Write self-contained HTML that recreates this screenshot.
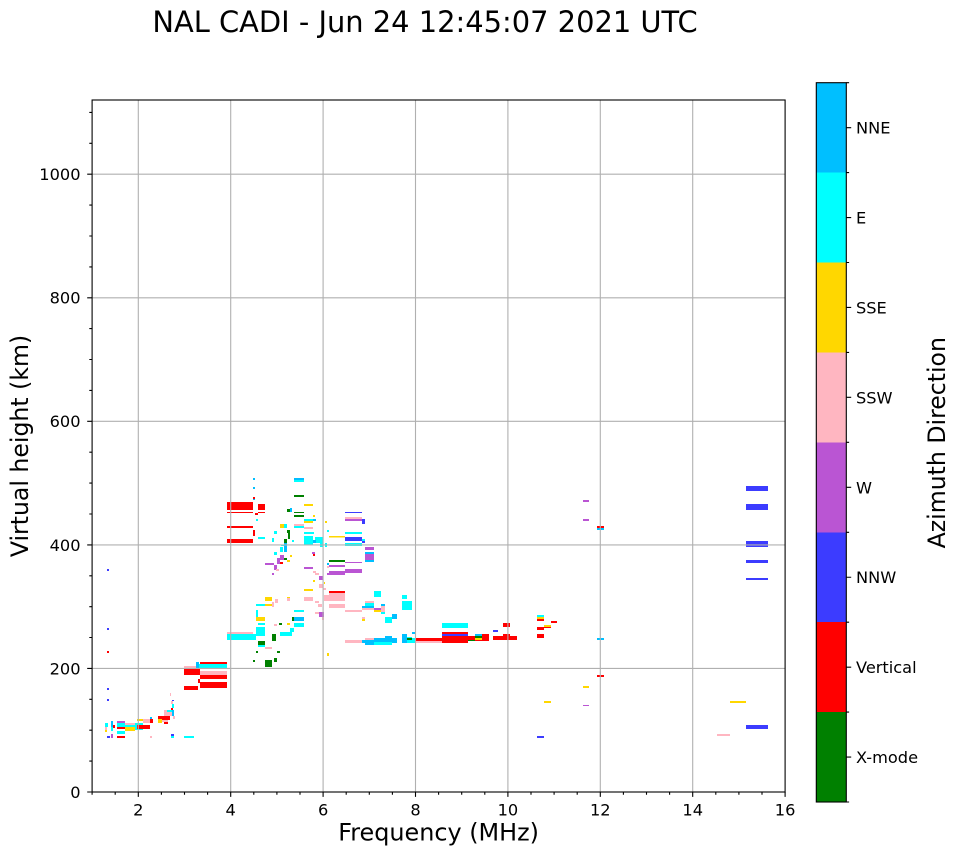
<!DOCTYPE html>
<html>
<head>
<meta charset="utf-8">
<style>
html,body{margin:0;padding:0;background:#fff;}
svg{display:block;}
text{font-family:"DejaVu Sans","Liberation Sans",sans-serif;fill:#000;}
</style>
</head>
<body>
<svg width="958" height="857" viewBox="0 0 958 857" xmlns="http://www.w3.org/2000/svg">
<rect x="0" y="0" width="958" height="857" fill="#fff"/>

<!-- Title -->
<text x="425" y="32" font-size="28.9" text-anchor="middle">NAL CADI - Jun 24 12:45:07 2021 UTC</text>

<!-- Data -->
<g shape-rendering="crispEdges">
<rect x="107" y="569" width="2" height="2" fill="#3c3cff"/>
<rect x="107" y="628" width="2" height="2" fill="#3c3cff"/>
<rect x="107" y="651" width="2" height="2" fill="#ff0000"/>
<rect x="107" y="688" width="2" height="2" fill="#3c3cff"/>
<rect x="107" y="699" width="2" height="2" fill="#3c3cff"/>

<rect x="105" y="723" width="3" height="4" fill="#00ffff"/>
<rect x="105" y="727" width="2" height="3" fill="#ffb6c1"/>
<rect x="105" y="730" width="2" height="2" fill="#ffd700"/>
<rect x="111" y="721" width="2" height="6" fill="#00bfff"/>
<rect x="111" y="727" width="2" height="4" fill="#00ffff"/>
<rect x="113" y="725" width="2" height="3" fill="#ff0000"/>
<rect x="117" y="721" width="8" height="2" fill="#ba55d3"/>
<rect x="117" y="723" width="18" height="4" fill="#00ffff"/>
<rect x="125" y="723" width="10" height="2" fill="#ffb6c1"/>
<rect x="117" y="727" width="8" height="2" fill="#ff0000"/>
<rect x="125" y="727" width="10" height="4" fill="#ffd700"/>
<rect x="117" y="731" width="8" height="3" fill="#00ffff"/>
<rect x="117" y="736" width="8" height="2" fill="#ff0000"/>
<rect x="107" y="736" width="3" height="2" fill="#3c3cff"/>
<rect x="111" y="734" width="2" height="4" fill="#ba55d3"/>
<rect x="135" y="723" width="8" height="7" fill="#00ffff"/>
<rect x="137" y="719" width="6" height="2" fill="#ffd700"/>
<rect x="143" y="719" width="7" height="4" fill="#ffb6c1"/>
<rect x="137" y="725" width="13" height="4" fill="#ff0000"/>
<rect x="150" y="719" width="3" height="4" fill="#ff0000"/>
<rect x="150" y="717" width="2" height="2" fill="#00bfff"/>
<rect x="158" y="716" width="12" height="4" fill="#ff0000"/>
<rect x="164" y="710" width="8" height="6" fill="#ffb6c1"/>
<rect x="167" y="710" width="5" height="2" fill="#00ffff"/>
<rect x="158" y="719" width="4" height="4" fill="#ffd700"/>
<rect x="162" y="720" width="6" height="2" fill="#ffb6c1"/>
<rect x="164" y="722" width="4" height="2" fill="#ff0000"/>
<rect x="150" y="736" width="2" height="2" fill="#ffb6c1"/>
<rect x="184" y="736" width="10" height="2" fill="#00ffff"/>
<rect x="171" y="734" width="3" height="2" fill="#3c3cff"/>
<rect x="171" y="736" width="3" height="2" fill="#00ffff"/>
<rect x="170" y="693" width="1" height="3" fill="#ffb6c1"/>
<rect x="171" y="701" width="2" height="3" fill="#ffb6c1"/>
<rect x="172" y="704" width="2" height="4" fill="#00ffff"/>
<rect x="171" y="708" width="2" height="2" fill="#ff0000"/>
<rect x="172" y="710" width="2" height="6" fill="#00bfff"/>
<rect x="173" y="716" width="2" height="3" fill="#ffb6c1"/>
<rect x="172" y="700" width="2" height="1" fill="#3c3cff"/>

<rect x="184" y="666" width="16" height="3" fill="#ffb6c1"/>
<rect x="184" y="669" width="16" height="6" fill="#ff0000"/>
<rect x="184" y="686" width="14" height="4" fill="#ff0000"/>
<rect x="198" y="679" width="2" height="4" fill="#ff0000"/>
<rect x="200" y="662" width="27" height="2" fill="#ff0000"/>
<rect x="196" y="664" width="31" height="5" fill="#00ffff"/>
<rect x="196" y="662" width="3" height="7" fill="#00bfff"/>
<rect x="200" y="671" width="27" height="4" fill="#ffb6c1"/>
<rect x="200" y="675" width="27" height="4" fill="#ff0000"/>
<rect x="200" y="682" width="27" height="6" fill="#ff0000"/>

<rect x="227" y="632" width="26" height="2" fill="#ffb6c1"/>
<rect x="227" y="634" width="29" height="6" fill="#00ffff"/>
<rect x="256" y="627" width="9" height="9" fill="#00ffff"/>
<rect x="258" y="641" width="7" height="4" fill="#008000"/>
<rect x="258" y="645" width="7" height="2" fill="#00ffff"/>
<rect x="256" y="651" width="2" height="2" fill="#008000"/>
<rect x="253" y="660" width="2" height="2" fill="#008000"/>
<rect x="265" y="660" width="7" height="7" fill="#008000"/>
<rect x="274" y="658" width="3" height="4" fill="#008000"/>
<rect x="277" y="651" width="3" height="2" fill="#008000"/>
<rect x="265" y="647" width="7" height="2" fill="#ffb6c1"/>
<rect x="272" y="634" width="4" height="7" fill="#008000"/>
<rect x="280" y="632" width="12" height="4" fill="#00ffff"/>
<rect x="290" y="628" width="4" height="4" fill="#00ffff"/>
<rect x="274" y="624" width="3" height="2" fill="#ffb6c1"/>
<rect x="256" y="610" width="2" height="10" fill="#00ffff"/>
<rect x="256" y="617" width="9" height="4" fill="#ffd700"/>
<rect x="258" y="623" width="7" height="2" fill="#00ffff"/>
<rect x="279" y="623" width="3" height="2" fill="#008000"/>
<rect x="287" y="623" width="3" height="2" fill="#ffd700"/>
<rect x="294" y="617" width="10" height="4" fill="#00bfff"/>
<rect x="292" y="617" width="2" height="4" fill="#008000"/>
<rect x="294" y="623" width="10" height="4" fill="#00ffff"/>
<rect x="294" y="610" width="10" height="2" fill="#00ffff"/>
<rect x="265" y="597" width="7" height="4" fill="#ffd700"/>
<rect x="256" y="604" width="9" height="2" fill="#00ffff"/>
<rect x="265" y="604" width="7" height="2" fill="#ffd700"/>
<rect x="272" y="602" width="2" height="5" fill="#ffb6c1"/>
<rect x="275" y="599" width="3" height="4" fill="#ffb6c1"/>
<rect x="287" y="597" width="3" height="4" fill="#ffb6c1"/>
<rect x="287" y="597" width="3" height="1" fill="#ffd700"/>
<rect x="304" y="597" width="9" height="4" fill="#ffb6c1"/>
<rect x="304" y="589" width="9" height="2" fill="#ffd700"/>
<rect x="315" y="601" width="4" height="2" fill="#ffb6c1"/>
<rect x="318" y="604" width="4" height="3" fill="#ffb6c1"/>
<rect x="319" y="612" width="5" height="5" fill="#ba55d3"/>
<rect x="315" y="612" width="4" height="2" fill="#ffb6c1"/>
<rect x="322" y="617" width="2" height="3" fill="#ffb6c1"/>
<rect x="327" y="653" width="2" height="3" fill="#ffd700"/>

<rect x="329" y="591" width="16" height="2" fill="#ff0000"/>
<rect x="329" y="593" width="16" height="8" fill="#ffb6c1"/>
<rect x="324" y="595" width="5" height="6" fill="#ffb6c1"/>
<rect x="329" y="604" width="16" height="4" fill="#ffb6c1"/>
<rect x="345" y="610" width="17" height="2" fill="#ffb6c1"/>
<rect x="345" y="640" width="17" height="3" fill="#ffb6c1"/>
<rect x="319" y="576" width="4" height="4" fill="#ba55d3"/>
<rect x="319" y="584" width="4" height="4" fill="#ffb6c1"/>
<rect x="323" y="588" width="3" height="2" fill="#ffb6c1"/>
<rect x="324" y="582" width="1" height="2" fill="#ffd700"/>

<rect x="294" y="478" width="10" height="2" fill="#00bfff"/>
<rect x="294" y="480" width="10" height="2" fill="#00ffff"/>
<rect x="294" y="495" width="10" height="2" fill="#008000"/>
<rect x="304" y="504" width="9" height="2" fill="#ffd700"/>
<rect x="287" y="510" width="3" height="2" fill="#008000"/>
<rect x="290" y="510" width="2" height="2" fill="#00bfff"/>
<rect x="294" y="512" width="10" height="1" fill="#008000"/>
<rect x="294" y="515" width="10" height="2" fill="#008000"/>
<rect x="313" y="515" width="2" height="2" fill="#ffd700"/>
<rect x="294" y="524" width="10" height="2" fill="#ffb6c1"/>
<rect x="294" y="526" width="10" height="2" fill="#00ffff"/>
<rect x="304" y="519" width="9" height="2" fill="#00ffff"/>
<rect x="304" y="521" width="9" height="2" fill="#ffd700"/>
<rect x="304" y="527" width="9" height="2" fill="#ffb6c1"/>
<rect x="313" y="519" width="3" height="2" fill="#00bfff"/>
<rect x="304" y="532" width="10" height="2" fill="#00ffff"/>
<rect x="304" y="536" width="9" height="9" fill="#00ffff"/>
<rect x="315" y="537" width="8" height="6" fill="#00ffff"/>
<rect x="313" y="540" width="3" height="3" fill="#00bfff"/>
<rect x="320" y="537" width="3" height="10" fill="#00ffff"/>
<rect x="325" y="543" width="2" height="4" fill="#00ffff"/>
<rect x="329" y="536" width="16" height="1.5" fill="#ffd700"/>
<rect x="345" y="537" width="17" height="4" fill="#3c3cff"/>
<rect x="362" y="541" width="3" height="2" fill="#3c3cff"/>
<rect x="362" y="539" width="3" height="2" fill="#00ffff"/>
<rect x="345" y="532" width="17" height="2" fill="#00ffff"/>
<rect x="345" y="543" width="17" height="3" fill="#00ffff"/>
<rect x="345" y="512" width="17" height="1" fill="#3c3cff"/>
<rect x="345" y="517" width="17" height="2" fill="#ffb6c1"/>
<rect x="345" y="519" width="17" height="2" fill="#ba55d3"/>
<rect x="362" y="519" width="3" height="5" fill="#3c3cff"/>
<rect x="325" y="521" width="2" height="2" fill="#ffd700"/>
<rect x="327" y="530" width="2" height="2" fill="#00ffff"/>
<rect x="365" y="547" width="9" height="3" fill="#ba55d3"/>
<rect x="365" y="552" width="9" height="2" fill="#00bfff"/>
<rect x="365" y="554" width="9" height="6" fill="#ba55d3"/>
<rect x="365" y="560" width="9" height="2" fill="#00bfff"/>
<rect x="329" y="560" width="16" height="2" fill="#008000"/>
<rect x="327" y="563" width="2" height="2" fill="#00bfff"/>
<rect x="329" y="565" width="16" height="2" fill="#ba55d3"/>
<rect x="327" y="566" width="2" height="2" fill="#ffb6c1"/>
<rect x="345" y="562" width="17" height="1" fill="#ba55d3"/>
<rect x="345" y="569" width="17" height="4" fill="#ba55d3"/>
<rect x="329" y="571" width="16" height="4" fill="#ba55d3"/>
<rect x="327" y="573" width="2" height="2" fill="#ba55d3"/>

<rect x="253" y="478" width="2" height="2" fill="#00bfff"/>
<rect x="253" y="487" width="2" height="2" fill="#00bfff"/>
<rect x="253" y="497" width="2" height="2" fill="#ff0000"/>
<rect x="253" y="499" width="2" height="1" fill="#00bfff"/>
<rect x="227" y="502" width="26" height="8" fill="#ff0000"/>
<rect x="258" y="504" width="7" height="6" fill="#ff0000"/>
<rect x="227" y="512" width="26" height="1" fill="#ff0000"/>
<rect x="258" y="512" width="7" height="1" fill="#ff0000"/>
<rect x="255" y="513" width="3" height="2" fill="#ff0000"/>
<rect x="227" y="526" width="26" height="2" fill="#ff0000"/>
<rect x="253" y="530" width="2" height="6" fill="#ff0000"/>
<rect x="227" y="539" width="26" height="4" fill="#ff0000"/>
<rect x="256" y="519" width="2" height="2" fill="#00ffff"/>
<rect x="258" y="537" width="7" height="2" fill="#00ffff"/>
<rect x="287" y="509" width="3" height="3" fill="#008000"/>
<rect x="290" y="508" width="2" height="3" fill="#00bfff"/>
<rect x="280" y="524" width="4" height="4" fill="#ffd700"/>
<rect x="284" y="524" width="3" height="4" fill="#00ffff"/>
<rect x="287" y="530" width="3" height="3" fill="#008000"/>
<rect x="288" y="533" width="2" height="6" fill="#008000"/>
<rect x="274" y="531" width="3" height="3" fill="#00ffff"/>
<rect x="272" y="538" width="2" height="4" fill="#00ffff"/>
<rect x="284" y="539" width="3" height="5" fill="#008000"/>
<rect x="292" y="540" width="2" height="2" fill="#00ffff"/>
<rect x="281" y="545" width="4" height="1" fill="#00ffff"/>
<rect x="280" y="547" width="3" height="5" fill="#00ffff"/>
<rect x="284" y="543" width="3" height="9" fill="#00bfff"/>
<rect x="274" y="552" width="3" height="3" fill="#00ffff"/>
<rect x="280" y="555" width="4" height="5" fill="#ba55d3"/>
<rect x="277" y="558" width="3" height="6" fill="#ba55d3"/>
<rect x="265" y="563" width="9" height="2" fill="#ba55d3"/>
<rect x="274" y="565" width="3" height="5" fill="#ba55d3"/>
<rect x="280" y="562" width="3" height="2" fill="#ff0000"/>
<rect x="284" y="558" width="3" height="2" fill="#008000"/>
<rect x="287" y="560" width="3" height="2" fill="#ffd700"/>
<rect x="290" y="555" width="2" height="2" fill="#ffd700"/>
<rect x="276" y="569" width="3" height="2" fill="#ffb6c1"/>
<rect x="272" y="573" width="2" height="2" fill="#ba55d3"/>
<rect x="304" y="567" width="9" height="2" fill="#ba55d3"/>
<rect x="313" y="554" width="2" height="2" fill="#ff0000"/>
<rect x="312" y="552" width="3" height="2" fill="#ba55d3"/>
<rect x="313" y="571" width="3" height="2" fill="#ffb6c1"/>
<rect x="315" y="573" width="4" height="2" fill="#ffb6c1"/>
<rect x="313" y="580" width="2" height="2" fill="#ffd700"/>

<rect x="374" y="591" width="7" height="6" fill="#00ffff"/>
<rect x="365" y="601" width="9" height="2" fill="#ffb6c1"/>
<rect x="365" y="603" width="9" height="3" fill="#00ffff"/>
<rect x="362" y="606" width="12" height="2" fill="#00bfff"/>
<rect x="362" y="608" width="12" height="2" fill="#ffb6c1"/>
<rect x="374" y="608" width="7" height="2" fill="#ba55d3"/>
<rect x="374" y="610" width="7" height="2" fill="#ffd700"/>
<rect x="381" y="606" width="4" height="6" fill="#ffb6c1"/>
<rect x="381" y="612" width="4" height="2" fill="#00ffff"/>
<rect x="381" y="604" width="4" height="2" fill="#00bfff"/>
<rect x="385" y="617" width="7" height="6" fill="#00ffff"/>
<rect x="392" y="614" width="5" height="5" fill="#00bfff"/>
<rect x="362" y="617" width="3" height="3" fill="#ffb6c1"/>
<rect x="362" y="619" width="3" height="2" fill="#ffd700"/>
<rect x="362" y="640" width="3" height="3" fill="#00bfff"/>
<rect x="365" y="638" width="9" height="2" fill="#ffb6c1"/>
<rect x="365" y="640" width="9" height="5" fill="#00bfff"/>
<rect x="374" y="638" width="23" height="5" fill="#00bfff"/>
<rect x="374" y="642" width="18" height="3" fill="#00ffff"/>
<rect x="385" y="636" width="7" height="2" fill="#00bfff"/>
<rect x="402" y="595" width="5" height="4" fill="#00ffff"/>
<rect x="402" y="601" width="10" height="9" fill="#00ffff"/>
<rect x="402" y="634" width="5" height="9" fill="#00bfff"/>
<rect x="407" y="637" width="5" height="6" fill="#00ffff"/>
<rect x="407" y="638" width="5" height="2" fill="#008000"/>
<rect x="412" y="632" width="3" height="2" fill="#00bfff"/>
<rect x="412" y="638" width="4" height="5" fill="#00ffff"/>
<rect x="416" y="638" width="26" height="3" fill="#ff0000"/>
<rect x="416" y="641" width="26" height="2" fill="#ffb6c1"/>
<rect x="442" y="623" width="26" height="5" fill="#00ffff"/>
<rect x="442" y="632" width="26" height="2" fill="#ff0000"/>
<rect x="442" y="634" width="26" height="2" fill="#3c3cff"/>
<rect x="442" y="636" width="26" height="7" fill="#ff0000"/>
<rect x="468" y="636" width="7" height="5" fill="#ff0000"/>
<rect x="468" y="640" width="7" height="1" fill="#008000"/>
<rect x="475" y="634" width="7" height="2" fill="#00bfff"/>
<rect x="475" y="636" width="7" height="2" fill="#008000"/>
<rect x="475" y="638" width="7" height="2" fill="#ffd700"/>
<rect x="475" y="640" width="7" height="1" fill="#ff0000"/>
<rect x="482" y="634" width="7" height="7" fill="#ff0000"/>
<rect x="493" y="630" width="5" height="2" fill="#3c3cff"/>
<rect x="493" y="636" width="24" height="4" fill="#ff0000"/>
<rect x="503" y="634" width="7" height="2" fill="#ff0000"/>
<rect x="503" y="623" width="7" height="4" fill="#ff0000"/>
<rect x="537" y="615" width="7" height="2" fill="#00ffff"/>
<rect x="537" y="617" width="7" height="2" fill="#ffd700"/>
<rect x="537" y="619" width="7" height="2" fill="#ff0000"/>
<rect x="537" y="627" width="7" height="3" fill="#ff0000"/>
<rect x="537" y="634" width="7" height="4" fill="#ff0000"/>
<rect x="544" y="625" width="7" height="2" fill="#ffd700"/>
<rect x="544" y="627" width="7" height="1" fill="#ff0000"/>
<rect x="551" y="621" width="6" height="2" fill="#ff0000"/>

<rect x="583" y="500" width="6" height="2" fill="#ba55d3"/>
<rect x="583" y="519" width="6" height="2" fill="#ba55d3"/>
<rect x="597" y="526" width="7" height="2" fill="#ff0000"/>
<rect x="597" y="528" width="7" height="2" fill="#00bfff"/>
<rect x="746" y="486" width="22" height="5" fill="#3c3cff"/>
<rect x="746" y="504" width="22" height="6" fill="#3c3cff"/>
<rect x="746" y="541" width="22" height="6" fill="#3c3cff"/>
<rect x="746" y="560" width="22" height="3" fill="#3c3cff"/>
<rect x="746" y="578" width="22" height="2" fill="#3c3cff"/>
<rect x="597" y="638" width="7" height="2" fill="#00bfff"/>
<rect x="597" y="675" width="7" height="2" fill="#ff0000"/>
<rect x="583" y="686" width="6" height="2" fill="#ffd700"/>
<rect x="544" y="701" width="7" height="2" fill="#ffd700"/>
<rect x="583" y="705" width="6" height="1" fill="#ba55d3"/>
<rect x="730" y="701" width="16" height="2" fill="#ffd700"/>
<rect x="746" y="725" width="22" height="4" fill="#3c3cff"/>
<rect x="717" y="734" width="13" height="2" fill="#ffb6c1"/>
<rect x="537" y="736" width="7" height="2" fill="#3c3cff"/>
</g>

<!-- Grid -->
<g stroke="#b0b0b0" stroke-width="1.1" fill="none">
<path d="M138.3 100V792M230.7 100V792M323.1 100V792M415.5 100V792M507.9 100V792M600.3 100V792M692.7 100V792"/>
<path d="M92.1 668.4H785.1M92.1 544.9H785.1M92.1 421.3H785.1M92.1 297.8H785.1M92.1 174.2H785.1"/>
</g>

<!-- Axes frame -->
<rect x="92.1" y="100" width="693" height="692" fill="none" stroke="#000" stroke-width="1.1"/>

<!-- Ticks -->
<g stroke="#000" stroke-width="1.1" fill="none">
<path d="M138.3 792v4.9M230.7 792v4.9M323.1 792v4.9M415.5 792v4.9M507.9 792v4.9M600.3 792v4.9M692.7 792v4.9M785.1 792v4.9"/>
<path d="M92.1 792v2.8M115.2 792v2.8M161.4 792v2.8M184.5 792v2.8M207.6 792v2.8M253.8 792v2.8M276.9 792v2.8M300 792v2.8M346.2 792v2.8M369.3 792v2.8M392.4 792v2.8M438.6 792v2.8M461.7 792v2.8M484.8 792v2.8M531 792v2.8M554.1 792v2.8M577.2 792v2.8M623.4 792v2.8M646.5 792v2.8M669.6 792v2.8M715.8 792v2.8M738.9 792v2.8M762 792v2.8"/>
<path d="M92.1 792h-4.9M92.1 668.4h-4.9M92.1 544.9h-4.9M92.1 421.3h-4.9M92.1 297.8h-4.9M92.1 174.2h-4.9"/>
<path d="M92.1 761.1h-2.8M92.1 730.2h-2.8M92.1 699.3h-2.8M92.1 637.5h-2.8M92.1 606.7h-2.8M92.1 575.8h-2.8M92.1 514h-2.8M92.1 483.1h-2.8M92.1 452.2h-2.8M92.1 390.4h-2.8M92.1 359.5h-2.8M92.1 328.6h-2.8M92.1 266.9h-2.8M92.1 236h-2.8M92.1 205.1h-2.8M92.1 143.3h-2.8M92.1 112.4h-2.8"/>
</g>

<!-- Tick labels -->
<g font-size="16.2" text-anchor="middle">
<text x="138.3" y="815.3">2</text>
<text x="230.7" y="815.3">4</text>
<text x="323.1" y="815.3">6</text>
<text x="415.5" y="815.3">8</text>
<text x="507.9" y="815.3">10</text>
<text x="600.3" y="815.3">12</text>
<text x="692.7" y="815.3">14</text>
<text x="785.1" y="815.3">16</text>
</g>
<g font-size="16.2" text-anchor="end">
<text x="80.5" y="797.9">0</text>
<text x="80.5" y="674.3">200</text>
<text x="80.5" y="550.8">400</text>
<text x="80.5" y="427.2">600</text>
<text x="80.5" y="303.7">800</text>
<text x="80.5" y="180.1">1000</text>
</g>

<!-- Axis labels -->
<text x="438.6" y="840.5" font-size="23.9" text-anchor="middle">Frequency (MHz)</text>
<text transform="translate(28,446) rotate(-90)" font-size="23.6" text-anchor="middle">Virtual height (km)</text>

<!-- Colorbar -->
<g shape-rendering="crispEdges">
<rect x="816.3" y="82.7" width="30" height="90" fill="#00bfff"/>
<rect x="816.3" y="172.6" width="30" height="90" fill="#00ffff"/>
<rect x="816.3" y="262.5" width="30" height="90" fill="#ffd700"/>
<rect x="816.3" y="352.4" width="30" height="90" fill="#ffb6c1"/>
<rect x="816.3" y="442.3" width="30" height="90" fill="#ba55d3"/>
<rect x="816.3" y="532.3" width="30" height="90" fill="#3c3cff"/>
<rect x="816.3" y="622.2" width="30" height="90" fill="#ff0000"/>
<rect x="816.3" y="712.1" width="30" height="89.9" fill="#008000"/>
</g>
<rect x="816.3" y="82.7" width="30" height="719.3" fill="none" stroke="#000" stroke-width="1.1"/>
<g stroke="#000" stroke-width="1.1">
<path d="M846.3 127.65h4.9M846.3 217.55h4.9M846.3 307.45h4.9M846.3 397.35h4.9M846.3 487.3h4.9M846.3 577.25h4.9M846.3 667.15h4.9M846.3 757.05h4.9"/>
<path d="M846.3 82.7h2.8M846.3 172.6h2.8M846.3 262.5h2.8M846.3 352.4h2.8M846.3 442.3h2.8M846.3 532.3h2.8M846.3 622.2h2.8M846.3 712.1h2.8M846.3 802h2.8"/>
</g>
<g font-size="16.2">
<text x="856" y="133.6">NNE</text>
<text x="856" y="223.5">E</text>
<text x="856" y="313.4">SSE</text>
<text x="856" y="403.3">SSW</text>
<text x="856" y="493.3">W</text>
<text x="856" y="583.2">NNW</text>
<text x="856" y="673.1">Vertical</text>
<text x="856" y="763">X-mode</text>
</g>
<text transform="translate(945,442.7) rotate(-90)" font-size="23.6" text-anchor="middle">Azimuth Direction</text>
</svg>
</body>
</html>
